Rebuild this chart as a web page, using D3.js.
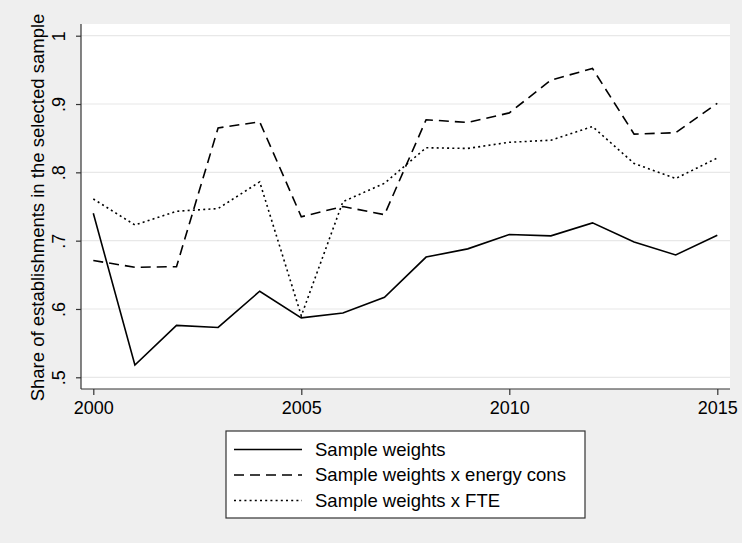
<!DOCTYPE html>
<html>
<head>
<meta charset="utf-8">
<script src="https://cdn.jsdelivr.net/npm/d3@7"></script>
<style>
  html, body { margin: 0; padding: 0; background: #efefef; }
  svg { display: block; font-family: "Liberation Sans", Arial, sans-serif; }
</style>
</head>
<body>
<svg id="chart" width="742" height="543"></svg>
<script>
const years = [2000,2001,2002,2003,2004,2005,2006,2007,2008,2009,2010,2011,2012,2013,2014,2015];
const sampleWeights = [0.740,0.518,0.576,0.573,0.626,0.587,0.594,0.617,0.676,0.688,0.709,0.707,0.726,0.698,0.679,0.708];
const energyCons    = [0.671,0.661,0.662,0.865,0.874,0.735,0.750,0.738,0.877,0.873,0.887,0.935,0.952,0.856,0.858,0.901];
const fte           = [0.761,0.723,0.743,0.747,0.786,0.590,0.757,0.784,0.836,0.835,0.844,0.847,0.867,0.813,0.791,0.821];
const xTicks = [2000,2005,2010,2015];
const yTicks = [0.5,0.6,0.7,0.8,0.9,1];
const yTickLabels = [".5",".6",".7",".8",".9","1"];
const seriesNames = ["Sample weights","Sample weights x energy cons","Sample weights x FTE"];

const svg = d3.select("#chart");
const W = 742, H = 543;
svg.append("rect").attr("width", W).attr("height", H).attr("fill", "#efefef");

const plot = {left: 81, right: 730, top: 24, bottom: 389};
const x = d3.scaleLinear().domain([2000, 2015]).range([93.3, 717.3]);
const y = d3.scaleLinear().domain([0.5, 1]).range([377.3, 35.7]);

svg.append("rect")
  .attr("x", plot.left).attr("y", plot.top)
  .attr("width", plot.right - plot.left).attr("height", plot.bottom - plot.top)
  .attr("fill", "#ffffff");

// gridlines
svg.append("g").selectAll("line").data(yTicks).join("line")
  .attr("x1", plot.left).attr("x2", plot.right)
  .attr("y1", d => y(d)).attr("y2", d => y(d))
  .attr("stroke", "#e8e8e8").attr("stroke-width", 1.2);

// y axis
const yAxis = d3.axisLeft(y).tickValues(yTicks).tickSize(5).tickFormat((d,i) => yTickLabels[i]);
const gy = svg.append("g").attr("transform", `translate(${plot.left},0)`).call(yAxis);
gy.select(".domain").attr("d", `M0,${plot.top}V${plot.bottom}`).attr("stroke", "#333").attr("stroke-width", 1.2);
gy.selectAll(".tick line").attr("stroke", "#333").attr("stroke-width", 1.2);
gy.selectAll(".tick text")
  .attr("font-size", 18).attr("fill", "#000")
  .attr("transform", "rotate(-90)")
  .attr("x", 0).attr("y", -16).attr("dy", 0)
  .attr("text-anchor", "middle");

// x axis
const xAxis = d3.axisBottom(x).tickValues(xTicks).tickSize(6).tickFormat(d3.format("d"));
const gx = svg.append("g").attr("transform", `translate(0,${plot.bottom})`).call(xAxis);
gx.select(".domain").attr("d", `M${plot.left},0H${plot.right}`).attr("stroke", "#333").attr("stroke-width", 1.2);
gx.selectAll(".tick line").attr("stroke", "#333").attr("stroke-width", 1.2);
gx.selectAll(".tick text").attr("font-size", 18).attr("fill", "#000").attr("y", 25).attr("dy", 0);

// y title
svg.append("text")
  .attr("transform", `translate(44,${(plot.top + plot.bottom) / 2 + 1}) rotate(-90)`)
  .attr("text-anchor", "middle")
  .attr("font-size", 18.5).attr("fill", "#000")
  .text("Share of establishments in the selected sample");

const styles = [
  {dash: null},
  {dash: "10,6"},
  {dash: "2,3.2"}
];
const data = [sampleWeights, energyCons, fte];
const line = d3.line().x((d,i) => x(years[i])).y(d => y(d));

data.forEach((s, k) => {
  svg.append("path").datum(s)
    .attr("d", line)
    .attr("fill", "none").attr("stroke", "#000")
    .attr("stroke-width", 1.6)
    .attr("stroke-dasharray", styles[k].dash);
});

// legend
const lg = svg.append("g");
lg.append("rect").attr("x", 226).attr("y", 431).attr("width", 359).attr("height", 87)
  .attr("fill", "#fff").attr("stroke", "#333").attr("stroke-width", 1.2);
const rowsY = [449.5, 475, 500.5];
seriesNames.forEach((n, k) => {
  lg.append("line").attr("x1", 234).attr("x2", 302).attr("y1", rowsY[k]).attr("y2", rowsY[k])
    .attr("stroke", "#000").attr("stroke-width", 1.6).attr("stroke-dasharray", styles[k].dash);
  lg.append("text").attr("x", 315).attr("y", rowsY[k]).attr("dy", "0.35em")
    .attr("font-size", 18.5).attr("fill", "#000").text(n);
});
</script>
</body>
</html>
